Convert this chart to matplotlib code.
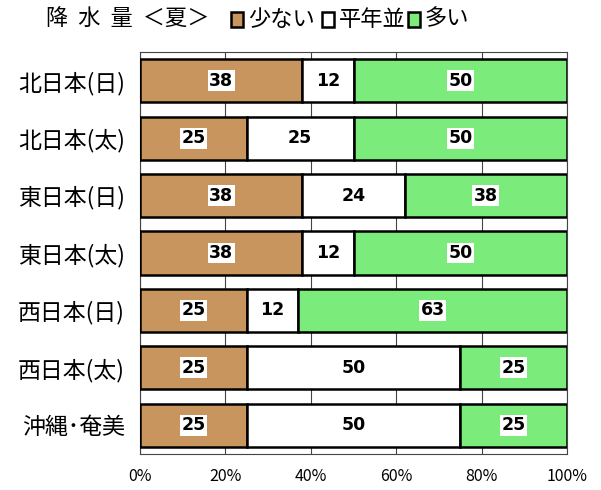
import matplotlib.pyplot as plt
from matplotlib.patches import Rectangle

plt.rcParams['font.family'] = ['Noto Sans CJK JP', 'DejaVu Sans']

regions = ['北日本(日)', '北日本(太)', '東日本(日)', '東日本(太)', '西日本(日)', '西日本(太)', '沖縄･奄美']
less = [38, 25, 38, 38, 25, 25, 25]
normal = [12, 25, 24, 12, 12, 50, 50]
more = [50, 50, 38, 50, 63, 25, 25]
series_names = ['少ない', '平年並', '多い']
colors = ['#C8955F', '#FFFFFF', '#7BEC7B']
xticks = [0, 20, 40, 60, 80, 100]

fig = plt.figure(figsize=(6.01, 4.90), dpi=100)
ax = fig.add_axes([140 / 601, 1 - 454 / 490, 427 / 601, 402 / 490])

y = list(range(len(regions)))
left = [0] * len(regions)
for vals, c in zip([less, normal, more], colors):
    ax.barh(y, vals, left=left, height=0.75, color=c, edgecolor='black', linewidth=1.8, zorder=3)
    for yi, l, v in zip(y, left, vals):
        box = None if c == '#FFFFFF' else dict(boxstyle='square,pad=0.08', fc='white', ec='none')
        ax.text(l + v / 2, yi, str(v), ha='center', va='center', fontsize=12.5,
                fontweight='bold', family='DejaVu Sans', bbox=box, zorder=4)
    left = [a + b for a, b in zip(left, vals)]

ax.set_xlim(0, 100)
ax.set_ylim(len(regions) - 0.5, -0.5)
ax.set_yticks(y)
ax.set_yticklabels(regions, fontsize=16.5)
ax.set_xticks(xticks)
ax.set_xticklabels([f'{t}%' for t in xticks], fontsize=11.5)
ax.tick_params(length=0, pad=10)
ax.tick_params(axis='y', pad=11)
ax.grid(axis='x', color='#444444', linewidth=0.8, zorder=0)
for s in ax.spines.values():
    s.set_color('#444444')
    s.set_linewidth(0.8)

# title and legend
fig.text(46 / 601, 1 - 19 / 490, '降  水  量  ＜夏＞', fontsize=16, va='center', ha='left')
leg_x = [231, 322, 408]
for lx, c, name in zip(leg_x, colors, series_names):
    fig.patches.append(Rectangle((lx / 601, 1 - 27 / 490), 12 / 601, 15 / 490,
                                 transform=fig.transFigure, fc=c, ec='black', lw=1.8))
    fig.text((lx + 17) / 601, 1 - 19 / 490, name, fontsize=16, va='center', ha='left')

fig.savefig('out.png', dpi=100)
